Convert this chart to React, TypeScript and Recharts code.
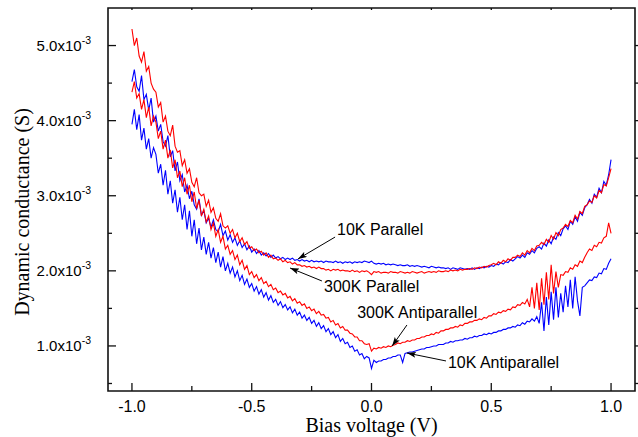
import { LineChart, Line, XAxis, YAxis, ReferenceArea } from "recharts";

// bias voltage (V), one reading every 10 mV
const volts = [
  -1.0, -0.99, -0.98, -0.97, -0.96, -0.95, -0.94, -0.93, -0.92, -0.91,
  -0.9, -0.89, -0.88, -0.87, -0.86, -0.85, -0.84, -0.83, -0.82, -0.81,
  -0.8, -0.79, -0.78, -0.77, -0.76, -0.75, -0.74, -0.73, -0.72, -0.71,
  -0.7, -0.69, -0.68, -0.67, -0.66, -0.65, -0.64, -0.63, -0.62, -0.61,
  -0.6, -0.59, -0.58, -0.57, -0.56, -0.55, -0.54, -0.53, -0.52, -0.51,
  -0.5, -0.49, -0.48, -0.47, -0.46, -0.45, -0.44, -0.43, -0.42, -0.41,
  -0.4, -0.39, -0.38, -0.37, -0.36, -0.35, -0.34, -0.33, -0.32, -0.31,
  -0.3, -0.29, -0.28, -0.27, -0.26, -0.25, -0.24, -0.23, -0.22, -0.21,
  -0.2, -0.19, -0.18, -0.17, -0.16, -0.15, -0.14, -0.13, -0.12, -0.11,
  -0.1, -0.09, -0.08, -0.07, -0.06, -0.05, -0.04, -0.03, -0.02, -0.01,
  0.0, 0.01, 0.02, 0.03, 0.04, 0.05, 0.06, 0.07, 0.08, 0.09,
  0.1, 0.11, 0.12, 0.13, 0.14, 0.15, 0.16, 0.17, 0.18, 0.19,
  0.2, 0.21, 0.22, 0.23, 0.24, 0.25, 0.26, 0.27, 0.28, 0.29,
  0.3, 0.31, 0.32, 0.33, 0.34, 0.35, 0.36, 0.37, 0.38, 0.39,
  0.4, 0.41, 0.42, 0.43, 0.44, 0.45, 0.46, 0.47, 0.48, 0.49,
  0.5, 0.51, 0.52, 0.53, 0.54, 0.55, 0.56, 0.57, 0.58, 0.59,
  0.6, 0.61, 0.62, 0.63, 0.64, 0.65, 0.66, 0.67, 0.68, 0.69,
  0.7, 0.71, 0.72, 0.73, 0.74, 0.75, 0.76, 0.77, 0.78, 0.79,
  0.8, 0.81, 0.82, 0.83, 0.84, 0.85, 0.86, 0.87, 0.88, 0.89,
  0.9, 0.91, 0.92, 0.93, 0.94, 0.95, 0.96, 0.97, 0.98, 0.99,
  1.0,
];

// conductance in units of 1e-3 S
const par10K = [
  4.52, 4.68, 4.45, 4.39, 4.6, 4.28, 4.35, 4.14, 4.3, 3.98,
  4.06, 3.86, 3.95, 3.72, 3.66, 3.8, 3.52, 3.6, 3.33, 3.45,
  3.2, 3.28, 3.05, 3.14, 2.96, 3.06, 2.88, 2.82, 2.96, 2.74,
  2.8, 2.64, 2.7, 2.58, 2.68, 2.55, 2.52, 2.62, 2.47, 2.53,
  2.41, 2.48, 2.38, 2.44, 2.34, 2.4, 2.31, 2.36, 2.28, 2.33,
  2.25, 2.29, 2.23, 2.27, 2.21, 2.24, 2.2, 2.23, 2.18, 2.21,
  2.17, 2.19, 2.16, 2.18, 2.15, 2.17, 2.15, 2.17, 2.14, 2.15,
  2.13, 2.15, 2.13, 2.14, 2.12, 2.14, 2.12, 2.13, 2.12, 2.13,
  2.11, 2.13, 2.12, 2.12, 2.11, 2.13, 2.11, 2.12, 2.1, 2.12,
  2.11, 2.12, 2.1, 2.12, 2.11, 2.12, 2.11, 2.13, 2.12, 2.11,
  2.13, 2.1, 2.09, 2.1, 2.09, 2.1, 2.08, 2.09, 2.08, 2.09,
  2.08, 2.07, 2.08, 2.07, 2.07, 2.08, 2.06, 2.07, 2.06, 2.07,
  2.06, 2.05, 2.06, 2.05, 2.04, 2.06, 2.05, 2.04, 2.05, 2.04,
  2.04, 2.03, 2.04, 2.02, 2.04, 2.03, 2.02, 2.04, 2.03, 2.02,
  2.03, 2.02, 2.04, 2.02, 2.04, 2.03, 2.05, 2.04, 2.06, 2.05,
  2.07, 2.06, 2.09, 2.08, 2.11, 2.09, 2.12, 2.11, 2.15, 2.13,
  2.16, 2.19, 2.17, 2.21, 2.18, 2.24, 2.22, 2.27, 2.24, 2.3,
  2.32, 2.29, 2.37, 2.33, 2.41, 2.36, 2.45, 2.42, 2.51, 2.47,
  2.56, 2.6, 2.55, 2.66, 2.62, 2.72, 2.66, 2.78, 2.74, 2.84,
  2.88, 2.95, 2.9, 3.02, 2.98, 3.1, 3.04, 3.19, 3.14, 3.28,
  3.48,
];

const par300K = [
  5.22, 5.0, 5.1, 4.86, 4.78, 4.92, 4.66, 4.72, 4.5, 4.42,
  4.38, 4.18, 4.24, 3.98, 4.06, 3.86, 3.8, 3.94, 3.66, 3.58,
  3.6, 3.4, 3.48, 3.3, 3.36, 3.18, 3.12, 3.24, 3.04, 3.0,
  3.02, 2.86, 2.94, 2.78, 2.84, 2.7, 2.66, 2.76, 2.6, 2.57,
  2.6, 2.5, 2.55, 2.44, 2.5, 2.39, 2.44, 2.35, 2.39, 2.3,
  2.32, 2.27, 2.29, 2.24, 2.26, 2.21, 2.24, 2.18, 2.21, 2.16,
  2.17, 2.14, 2.16, 2.12, 2.14, 2.11, 2.12, 2.09, 2.11, 2.08,
  2.08, 2.06, 2.07, 2.05, 2.06, 2.04, 2.05, 2.03, 2.05, 2.03,
  2.03, 2.01, 2.02, 2.0, 2.02, 2.01, 2.02, 2.0, 2.01, 2.0,
  2.0, 1.99, 2.01, 1.99, 2.0, 1.98, 2.0, 1.99, 2.0, 1.98,
  1.95, 1.99, 1.98, 1.99, 1.97, 1.98, 1.98, 1.97, 1.99, 1.98,
  1.98, 1.97, 1.99, 1.98, 1.97, 1.98, 1.97, 1.99, 1.98, 1.97,
  1.98, 1.99, 1.97, 1.98, 1.99, 1.98, 1.99, 1.98, 2.0, 1.99,
  1.99, 2.0, 1.99, 2.01, 2.0, 2.01, 2.0, 2.02, 2.01, 2.02,
  2.02, 2.03, 2.02, 2.04, 2.03, 2.05, 2.04, 2.06, 2.05, 2.07,
  2.08, 2.1, 2.08, 2.12, 2.1, 2.14, 2.12, 2.16, 2.14, 2.18,
  2.18, 2.21, 2.19, 2.24, 2.21, 2.27, 2.24, 2.3, 2.27, 2.33,
  2.34, 2.38, 2.35, 2.42, 2.38, 2.47, 2.42, 2.51, 2.47, 2.55,
  2.57, 2.62, 2.59, 2.67, 2.64, 2.74, 2.69, 2.79, 2.76, 2.86,
  2.88, 2.93, 2.91, 3.0, 2.97, 3.07, 3.04, 3.15, 3.13, 3.24,
  3.36,
];

const anti300K = [
  4.38, 4.52, 4.3, 4.36, 4.15, 4.28, 4.04, 4.18, 3.93, 4.06,
  3.98, 3.76, 3.86, 3.62, 3.74, 3.5, 3.61, 3.37, 3.48, 3.24,
  3.33, 3.12, 3.24, 3.02, 3.14, 2.92, 3.05, 2.83, 2.94, 2.73,
  2.82, 2.65, 2.73, 2.55, 2.64, 2.46, 2.55, 2.38, 2.46, 2.29,
  2.34, 2.22, 2.27, 2.15, 2.21, 2.08, 2.14, 2.02, 2.07, 1.95,
  1.99, 1.91, 1.95, 1.87, 1.91, 1.83, 1.86, 1.79, 1.82, 1.75,
  1.77, 1.71, 1.73, 1.68, 1.7, 1.64, 1.66, 1.6, 1.63, 1.57,
  1.59, 1.54, 1.56, 1.5, 1.52, 1.47, 1.49, 1.43, 1.46, 1.41,
  1.42, 1.37, 1.38, 1.32, 1.34, 1.28, 1.3, 1.24, 1.26, 1.21,
  1.21, 1.17, 1.16, 1.12, 1.12, 1.07, 1.07, 1.03, 1.02, 1.03,
  0.93, 0.97, 0.96, 0.98, 0.97, 0.99, 0.98, 1.0, 0.99, 1.01,
  1.02, 1.04, 1.03, 1.05, 1.05, 1.07, 1.06, 1.08, 1.08, 1.1,
  1.1, 1.12, 1.12, 1.14, 1.14, 1.16, 1.15, 1.18, 1.17, 1.2,
  1.2, 1.22, 1.22, 1.24, 1.24, 1.26, 1.25, 1.28, 1.27, 1.3,
  1.3, 1.32, 1.32, 1.34, 1.34, 1.36, 1.35, 1.38, 1.37, 1.4,
  1.4, 1.43, 1.42, 1.45, 1.44, 1.47, 1.46, 1.49, 1.48, 1.52,
  1.51, 1.55, 1.54, 1.58, 1.56, 1.62, 1.52, 1.78, 1.5, 1.84,
  1.48, 1.9, 1.55, 1.98, 1.62, 2.08, 1.7, 1.99, 1.78, 1.95,
  1.94, 1.99, 1.98, 2.04, 2.02, 2.08, 2.06, 2.13, 2.11, 2.18,
  2.24, 2.29, 2.27, 2.34, 2.32, 2.38, 2.37, 2.44, 2.46, 2.64,
  2.5,
];

const anti10K = [
  3.95, 4.15, 3.88, 4.08, 3.74, 3.9, 3.62, 3.76, 3.5, 3.64,
  3.55, 3.3, 3.42, 3.14, 3.34, 3.02, 3.2, 2.9, 3.08, 2.78,
  2.98, 2.68, 2.88, 2.55, 2.8, 2.46, 2.68, 2.36, 2.57, 2.28,
  2.45, 2.22, 2.38, 2.17, 2.31, 2.11, 2.25, 2.05, 2.19, 2.0,
  2.1, 1.97, 2.05, 1.92, 2.0, 1.87, 1.94, 1.82, 1.89, 1.78,
  1.83, 1.73, 1.79, 1.69, 1.75, 1.65, 1.71, 1.61, 1.67, 1.58,
  1.62, 1.54, 1.59, 1.51, 1.55, 1.48, 1.52, 1.44, 1.49, 1.41,
  1.45, 1.37, 1.41, 1.34, 1.38, 1.3, 1.34, 1.26, 1.31, 1.23,
  1.27, 1.19, 1.23, 1.15, 1.19, 1.11, 1.15, 1.06, 1.1, 1.03,
  1.05, 0.98, 1.0, 0.93, 0.95, 0.88, 0.9, 0.83, 0.86, 0.84,
  0.7, 0.81, 0.78, 0.8, 0.8, 0.82, 0.82, 0.84, 0.84, 0.86,
  0.86, 0.88, 0.88, 0.78, 0.9, 0.91, 0.92, 0.92, 0.93, 0.94,
  0.95, 0.96, 0.96, 0.98, 0.98, 0.99, 1.0, 1.0, 1.02, 1.02,
  1.02, 1.04, 1.04, 1.06, 1.05, 1.07, 1.07, 1.08, 1.08, 1.1,
  1.09, 1.11, 1.11, 1.13, 1.12, 1.14, 1.14, 1.16, 1.15, 1.17,
  1.16, 1.18, 1.18, 1.2, 1.2, 1.22, 1.22, 1.24, 1.24, 1.26,
  1.25, 1.28, 1.27, 1.31, 1.29, 1.33, 1.32, 1.36, 1.33, 1.39,
  1.3, 1.58, 1.2, 1.65, 1.28, 1.72, 1.35, 1.78, 1.38, 1.7,
  1.45, 1.8, 1.52, 1.88, 1.5, 1.92, 1.6, 1.4, 1.78, 1.8,
  1.84, 1.88, 1.87, 1.92, 1.91, 1.97, 1.96, 2.03, 2.02, 2.1,
  2.16,
];

const xTicks = [-1, -0.75, -0.5, -0.25, 0, 0.25, 0.5, 0.75, 1];
const yTicks = [0.5, 1, 1.5, 2, 2.5, 3, 3.5, 4, 4.5, 5];
const X_DOMAIN: [number, number] = [-1.1, 1.1];
const Y_DOMAIN: [number, number] = [0.4, 5.5];

// text label position, arrow tail, arrow head (all in data units)
const notes = [
  { text: "10K Parallel", at: [-0.144, 2.477], from: [-0.152, 2.45], to: [-0.307, 2.158] },
  { text: "300K Parallel", at: [-0.198, 1.72], from: [-0.207, 1.865], to: [-0.34, 2.038] },
  { text: "300K Antiparallel", at: [-0.06, 1.372], from: [0.148, 1.279], to: [0.086, 0.999] },
  { text: "10K Antiparallel", at: [0.319, 0.706], from: [0.311, 0.8], to: [0.148, 0.906] },
];

const W = 638;
const H = 437;
const LEFT = 108;
const RIGHT = 635;
const TOP = 8;
const BOTTOM = 391;
const PLOT_W = RIGHT - LEFT;
const PLOT_H = BOTTOM - TOP;

const sansFont = "Arial, 'Liberation Sans', sans-serif";
const serifFont = "'Times New Roman', 'Liberation Serif', serif";

const sx = (v: number) => LEFT + ((v - X_DOMAIN[0]) / (X_DOMAIN[1] - X_DOMAIN[0])) * PLOT_W;
const sy = (v: number) => BOTTOM - ((v - Y_DOMAIN[0]) / (Y_DOMAIN[1] - Y_DOMAIN[0])) * PLOT_H;

const isMajor = (v: number, step: number) => Math.abs(v / step - Math.round(v / step)) < 1e-6;

function XTick(props: any) {
  const { x, payload } = props;
  const v = payload.value as number;
  const major = isMajor(v, 0.5);
  return (
    <g>
      <line x1={x} x2={x} y1={BOTTOM} y2={BOTTOM - (major ? 8 : 5)} stroke="#111" strokeWidth={1.3} />
      <line x1={x} x2={x} y1={TOP} y2={TOP + 2} stroke="#111" strokeWidth={1.3} />
      {major && (
        <text x={x} y={BOTTOM + 21} textAnchor="middle" fontSize={16} fontFamily={sansFont} fill="#000">
          {v.toFixed(1)}
        </text>
      )}
    </g>
  );
}

function YTick(props: any) {
  const { y, payload } = props;
  const v = payload.value as number;
  const major = isMajor(v, 1);
  return (
    <g>
      <line x1={LEFT} x2={LEFT + (major ? 8 : 4)} y1={y} y2={y} stroke="#111" strokeWidth={1.3} />
      <line x1={RIGHT} x2={RIGHT + 3} y1={y} y2={y} stroke="#111" strokeWidth={1.3} />
      {major && (
        <text x={LEFT - 17} y={y + 5.5} textAnchor="end" fontSize={15} fontFamily={sansFont} fill="#000">
          <tspan>{v.toFixed(1)}x10</tspan>
          <tspan dy={-7} fontSize={10.5}>-3</tspan>
        </text>
      )}
    </g>
  );
}

export default function App() {
  const data = volts.map((v, i) => ({
    v,
    par10K: par10K[i],
    par300K: par300K[i],
    anti300K: anti300K[i],
    anti10K: anti10K[i],
  }));

  return (
    <div style={{ position: "absolute", left: 0, top: 0, width: W, height: H, background: "#fff", overflow: "hidden" }}>
      <LineChart
        width={W}
        height={H}
        data={data}
        margin={{ top: TOP, right: W - RIGHT, bottom: H - BOTTOM - 40, left: LEFT - 100 }}
      >
        <XAxis
          dataKey="v"
          type="number"
          domain={X_DOMAIN}
          allowDataOverflow
          ticks={xTicks}
          interval={0}
          height={40}
          tickSize={0}
          tickMargin={0}
          tickLine={false}
          axisLine={false}
          tick={<XTick />}
        />
        <YAxis
          type="number"
          domain={Y_DOMAIN}
          allowDataOverflow
          ticks={yTicks}
          interval={0}
          width={100}
          tickSize={0}
          tickMargin={0}
          tickLine={false}
          axisLine={false}
          tick={<YTick />}
        />
        <Line dataKey="anti10K" stroke="#0000ff" strokeWidth={1.1} dot={false} isAnimationActive={false} />
        <Line dataKey="par10K" stroke="#0000ff" strokeWidth={1.1} dot={false} isAnimationActive={false} />
        <Line dataKey="anti300K" stroke="#ff0000" strokeWidth={1.1} dot={false} isAnimationActive={false} />
        <Line dataKey="par300K" stroke="#ff0000" strokeWidth={1.1} dot={false} isAnimationActive={false} />
        <ReferenceArea
          x1={X_DOMAIN[0]}
          x2={X_DOMAIN[1]}
          y1={Y_DOMAIN[0]}
          y2={Y_DOMAIN[1]}
          fill="none"
          fillOpacity={0}
          stroke="#111"
          strokeWidth={1.6}
        />
      </LineChart>
      <svg width={W} height={H} style={{ position: "absolute", left: 0, top: 0, pointerEvents: "none" }}>
        <defs>
          <marker id="arrowHead" markerWidth={9} markerHeight={6} refX={9} refY={3} orient="auto" markerUnits="userSpaceOnUse">
            <path d="M0,0 L9,3 L0,6 L2,3 z" fill="#000" />
          </marker>
        </defs>
        {notes.map((n) => (
          <g key={n.text}>
            <line
              x1={sx(n.from[0])}
              y1={sy(n.from[1])}
              x2={sx(n.to[0])}
              y2={sy(n.to[1])}
              stroke="#000"
              strokeWidth={1}
              markerEnd="url(#arrowHead)"
            />
            <text x={sx(n.at[0])} y={sy(n.at[1])} fontSize={16} fontFamily={sansFont} fill="#000">
              {n.text}
            </text>
          </g>
        ))}
        <text x={sx(0)} y={432} textAnchor="middle" fontSize={20} fontFamily={serifFont} fill="#000">
          Bias voltage (V)
        </text>
        <text
          x={24}
          y={212}
          textAnchor="middle"
          fontSize={20}
          fontFamily={serifFont}
          fill="#000"
          transform="rotate(-90 24 212)"
          dominantBaseline="middle"
        >
          Dynamic conductance (S)
        </text>
      </svg>
    </div>
  );
}
